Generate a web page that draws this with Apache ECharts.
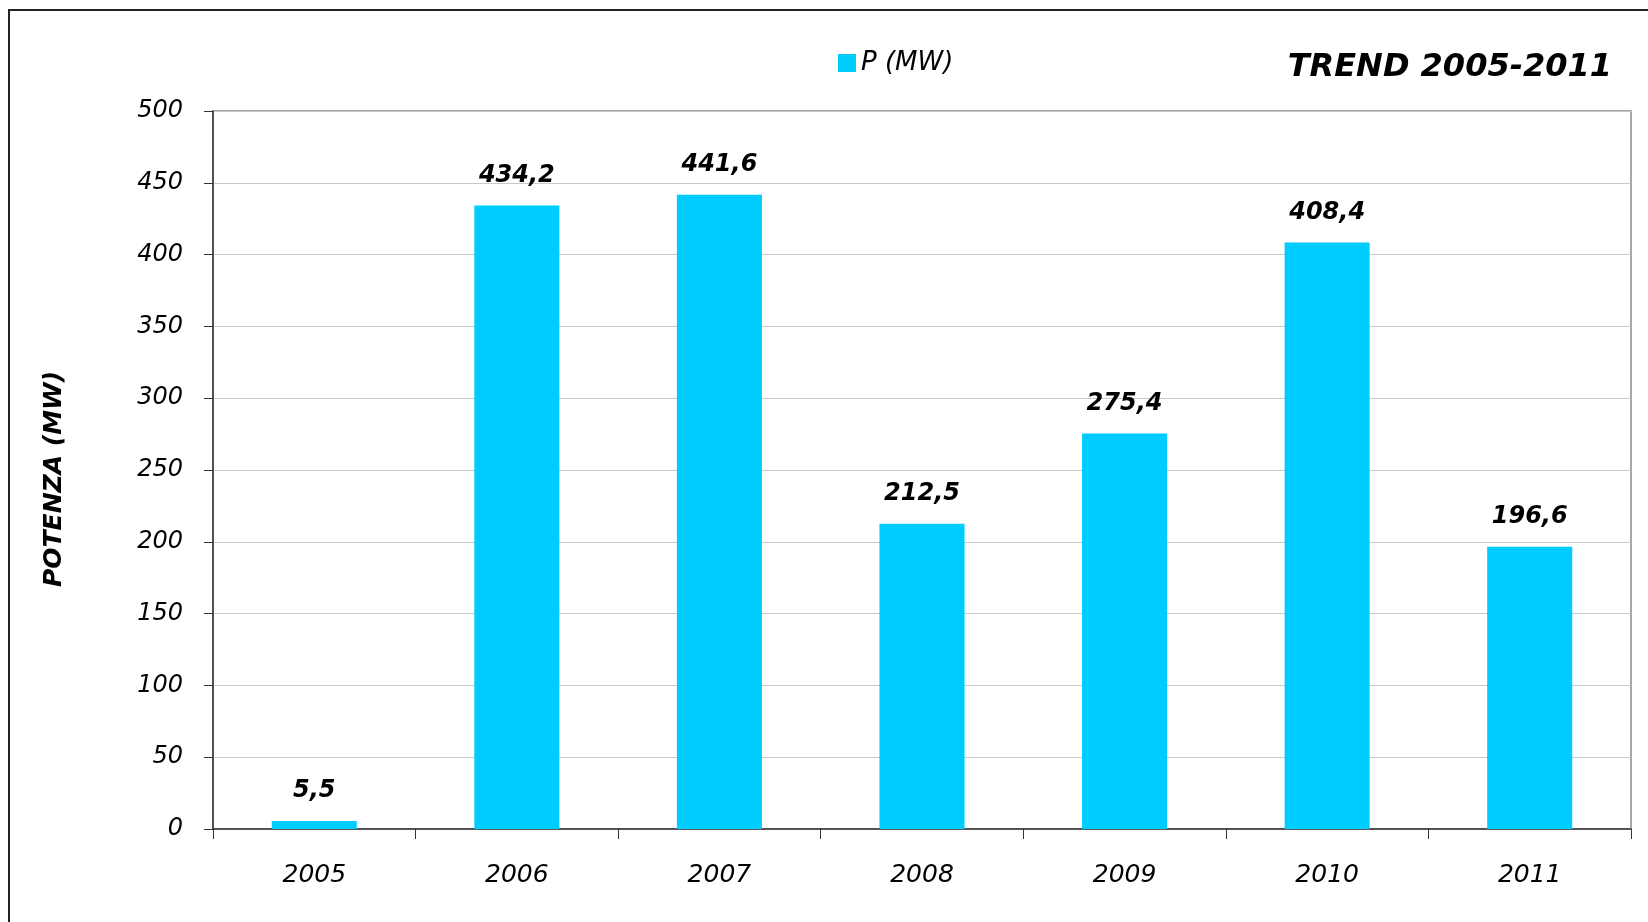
<!DOCTYPE html>
<html>
<head>
<meta charset="utf-8">
<script src="https://cdn.jsdelivr.net/npm/echarts@6/dist/echarts.min.js"></script>
<style>
  html, body { margin: 0; padding: 0; background: #fff; }
  #chart { width: 1648px; height: 922px; }
</style>
</head>
<body>
<div id="chart"></div>
<script>
  // dati
  const years = ['2005', '2006', '2007', '2008', '2009', '2010', '2011']
  const potenza = [5.5, 434.2, 441.6, 212.5, 275.4, 408.4, 196.6]
  const seriesName = 'P (MW)'
  const titleText = 'TREND 2005-2011'
  const yName = 'POTENZA (MW)'

  const font = 'DejaVu Sans'
  const chart = echarts.init(document.getElementById('chart'))

  chart.setOption({
    animation: false,
    backgroundColor: '#fff',
    title: {
      text: titleText,
      right: 31,
      top: 47,
      textStyle: { fontFamily: font, fontSize: 32, fontWeight: 'bold', fontStyle: 'italic', color: '#000' }
    },
    legend: {
      left: 833,
      top: 45,
      itemWidth: 18,
      itemHeight: 18,
      itemGap: 6,
      icon: 'rect',
      textStyle: { fontFamily: font, fontSize: 26, fontStyle: 'italic', color: '#000' },
      data: [seriesName]
    },
    grid: {
      left: 213,
      top: 111,
      right: 17,
      bottom: 93,
      show: true,
      borderColor: '#8c8c8c',
      borderWidth: 1.5
    },
    xAxis: {
      type: 'category',
      data: years,
      axisLine: { lineStyle: { color: '#333', width: 1.5 } },
      axisTick: { show: true, length: 10, lineStyle: { color: '#333' } },
      axisLabel: { margin: 34, fontFamily: font, fontSize: 25, fontStyle: 'italic', color: '#000' }
    },
    yAxis: {
      type: 'value',
      min: 0,
      max: 500,
      interval: 50,
      name: yName,
      nameLocation: 'middle',
      nameGap: 146,
      nameRotate: 90,
      nameTextStyle: { fontFamily: font, fontSize: 25, fontWeight: 'bold', fontStyle: 'italic', color: '#000', padding: [0, 18, 0, 0] },
      axisLine: { show: true, lineStyle: { color: '#333', width: 1.5 } },
      axisTick: { show: true, length: 9, lineStyle: { color: '#333' } },
      axisLabel: { margin: 30, fontFamily: font, fontSize: 24, fontStyle: 'italic', color: '#000' },
      splitLine: { lineStyle: { color: '#c8c8c8', width: 1 } }
    },
    series: [
      {
        name: seriesName,
        type: 'bar',
        data: potenza,
        barWidth: '42%',
        itemStyle: { color: '#00ccff' },
        label: {
          show: true,
          position: 'top',
          distance: 18,
          fontFamily: font,
          fontSize: 24,
          fontWeight: 'bold',
          fontStyle: 'italic',
          color: '#000',
          formatter: p => String(p.value).replace('.', ',')
        }
      }
    ],
    graphic: [
      {
        type: 'rect',
        silent: true,
        shape: { x: 9, y: 10, width: 2000, height: 2000 },
        style: { fill: 'none', stroke: '#222', lineWidth: 2 }
      }
    ]
  })
</script>
</body>
</html>
